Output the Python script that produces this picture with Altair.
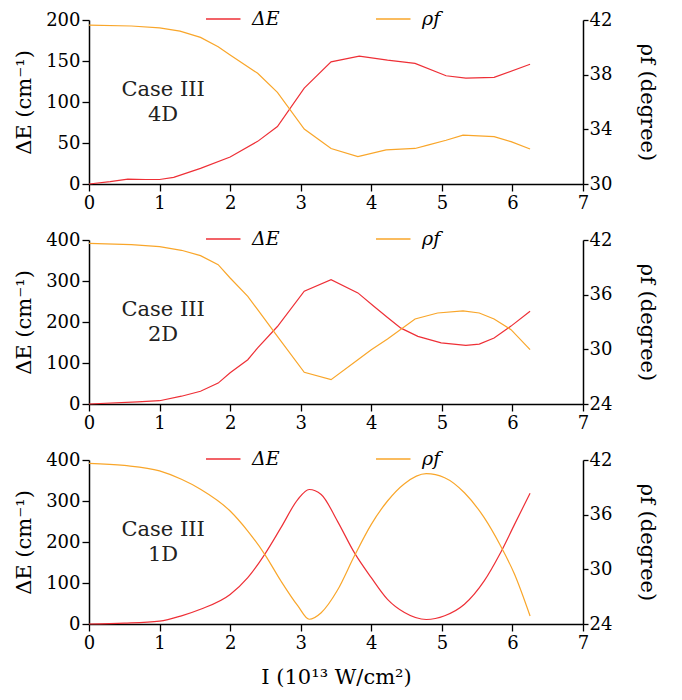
import altair as alt
import pandas as pd

RED = "#ee2f36"
ORANGE = "#f9a62a"
FONT = "DejaVu Serif"

# ---- Panel 1 : Case III 4D ----
x4_dE = [0, 0.3, 0.55, 0.8, 1.0, 1.2, 1.58, 2.0, 2.39, 2.67, 3.05, 3.43, 3.83, 4.23, 4.62, 5.06, 5.34, 5.74, 6.25]
y4_dE = [0, 3, 6, 5.5, 5.5, 8, 19, 33, 52, 70, 117, 149, 156, 151, 147, 132, 129, 130, 146]
x4_rho = [0, 0.6, 1.0, 1.29, 1.58, 1.83, 2.0, 2.39, 2.67, 3.05, 3.43, 3.81, 4.21, 4.62, 4.8, 5.06, 5.3, 5.74, 5.98, 6.25]
y4_rho = [41.63, 41.56, 41.43, 41.19, 40.73, 40.05, 39.44, 38.1, 36.7, 34.02, 32.6, 32.0, 32.49, 32.6, 32.85, 33.2, 33.58, 33.46, 33.1, 32.56]

# ---- Panel 2 : Case III 2D ----
x2_dE = [0, 0.69, 1.0, 1.31, 1.58, 1.83, 2.0, 2.25, 2.39, 2.67, 3.05, 3.43, 3.81, 4.04, 4.23, 4.42, 4.66, 4.99, 5.34, 5.53, 5.74, 5.98, 6.25]
y2_dE = [0, 5, 8, 19, 31, 51, 76, 108, 137, 189, 275, 303, 271, 238, 211, 185, 165, 149, 143, 146, 161, 190, 226]
x2_rho = [0, 0.6, 1.0, 1.31, 1.58, 1.83, 2.0, 2.25, 2.39, 2.67, 3.05, 3.43, 3.81, 4.0, 4.23, 4.62, 4.94, 5.3, 5.53, 5.74, 5.98, 6.25]
y2_rho = [41.64, 41.49, 41.27, 40.87, 40.28, 39.29, 37.83, 35.82, 34.35, 31.43, 27.48, 26.67, 28.86, 29.96, 31.13, 33.33, 33.99, 34.21, 33.99, 33.33, 32.16, 29.96]

# ---- Panel 3 : Case III 1D ----
x1 = [0, 0.5, 1.0, 1.31, 1.58, 2.0, 2.25, 2.49, 2.72, 2.96, 3.12, 3.29, 3.52, 3.76, 4.0, 4.23, 4.47, 4.78, 5.04, 5.32, 5.6, 5.82, 6.03, 6.25]
y1_dE = [0, 2, 7, 20, 36, 72, 113, 170, 235, 304, 328, 316, 251, 174, 113, 60, 28, 11, 20, 48, 105, 170, 243, 319]
y1_rho = [41.64, 41.4, 40.8, 39.88, 38.79, 36.4, 34.2, 31.65, 28.72, 25.98, 24.52, 25.24, 27.7, 31.46, 34.94, 37.5, 39.4, 40.5, 40.06, 38.41, 35.67, 32.75, 29.46, 24.88]

x_ticks = [0, 1, 2, 3, 4, 5, 6, 7]
series_names = ["ΔE", "ρf"]
case_labels = ["Case III\n4D", "Case III\n2D", "Case III\n1D"]

W, H = 494, 164


def panel(xd, yd, xr, yr, dmax, dticks, rdom, rticks, label, interp, last):
    df_d = pd.DataFrame({"x": xd, "y": yd, "s": series_names[0]})
    df_r = pd.DataFrame({"x": xr, "y": yr, "s": series_names[1]})
    df_t = pd.DataFrame({"x": [1.05], "y": [dmax * 0.573], "t": [label]})

    xenc = alt.X(
        "x:Q",
        scale=alt.Scale(domain=[0, 7], nice=False, zero=False),
        axis=alt.Axis(values=x_ticks, title="I (10¹³ W/cm²)" if last else None,
                      tickSize=7, labelPadding=3, titlePadding=14, labelFlush=False),
    )
    color = alt.Color(
        "s:N",
        scale=alt.Scale(domain=series_names, range=[RED, ORANGE]),
        legend=alt.Legend(
            orient="none", legendX=117, legendY=-7, direction="horizontal",
            title=None, symbolType="M-5,0H5", symbolSize=100, symbolStrokeWidth=1.3,
            labelFont=FONT, labelFontSize=19, labelFontStyle="italic", labelColor="black",
            labelOffset=27, columnPadding=96, padding=0, clipHeight=12,
        ),
    )
    yleft_axis = alt.Axis(values=dticks, title="ΔE  (cm⁻¹)", orient="left",
                          tickSize=7, labelPadding=2, titlePadding=11)
    yleft_scale = alt.Scale(domain=[0, dmax], nice=False, zero=False)

    dline = alt.Chart(df_d).mark_line(strokeWidth=1.2, interpolate=interp).encode(
        x=xenc, y=alt.Y("y:Q", scale=yleft_scale, axis=yleft_axis), color=color
    )
    txt = alt.Chart(df_t).mark_text(
        font=FONT, fontSize=21, lineBreak="\n", lineHeight=25, align="center",
        baseline="middle", color="#222222"
    ).encode(x=xenc, y=alt.Y("y:Q", scale=yleft_scale, axis=yleft_axis), text="t:N")
    left = alt.layer(dline, txt)

    rline = alt.Chart(df_r).mark_line(strokeWidth=1.2, interpolate=interp).encode(
        x=xenc,
        y=alt.Y("y:Q", scale=alt.Scale(domain=rdom, nice=False, zero=False),
                axis=alt.Axis(values=rticks, title="ρf  (degree)", orient="right",
                              tickSize=5, labelPadding=1, titlePadding=25)),
        color=color,
    )
    return alt.layer(left, rline).resolve_scale(y="independent").properties(width=W, height=H)


p1 = panel(x4_dE, y4_dE, x4_rho, y4_rho, 200, [0, 50, 100, 150, 200], [30, 42], [30, 34, 38, 42],
           case_labels[0], "linear", False)
p2 = panel(x2_dE, y2_dE, x2_rho, y2_rho, 400, [0, 100, 200, 300, 400], [24, 42], [24, 30, 36, 42],
           case_labels[1], "linear", False)
p3 = panel(x1, y1_dE, x1, y1_rho, 400, [0, 100, 200, 300, 400], [24, 42], [24, 30, 36, 42],
           case_labels[2], "monotone", True)

chart = (
    alt.vconcat(p1, p2, p3, spacing=19)
    .resolve_scale(color="independent")
    .properties(padding={"left": 5, "top": 3, "right": 5, "bottom": 4})
    .configure_view(stroke=None)
    .configure_axis(
        domainColor="black", domainWidth=1.5, tickColor="black", tickWidth=1.3,
        labelFont=FONT, labelFontSize=18, labelColor="black",
        titleFont=FONT, titleFontSize=21, titleFontWeight="normal", titleColor="black",
        grid=False,
    )
)

chart.save("out.html", embed_options={"renderer": "svg", "actions": False})
